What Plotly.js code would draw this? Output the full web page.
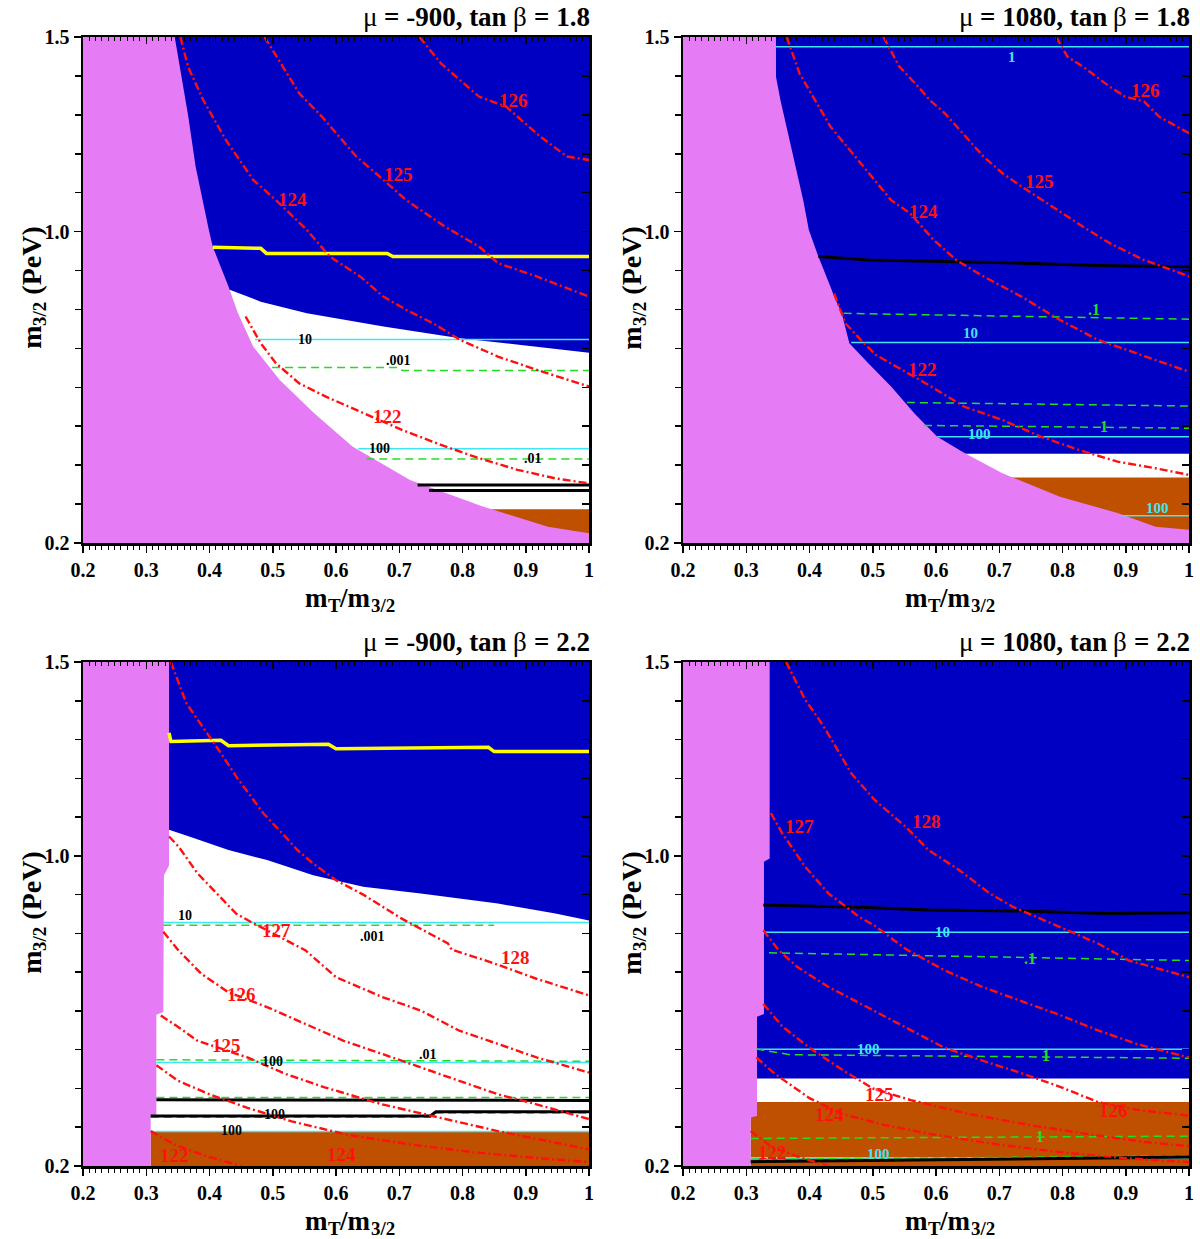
<!DOCTYPE html>
<html><head><meta charset="utf-8">
<script src="https://cdn.plot.ly/plotly-3.0.1.min.js"></script>
<style>body{margin:0;background:#fff}#chart{width:1200px;height:1239px}</style>
</head><body><div id="chart"></div>
<script>
// ---------------- data (data units: x = mT/m3/2, y = m3/2 in PeV) ----------------
const panelMu = ["-900", "1080", "-900", "1080"];
const panelTanBeta = ["1.8", "1.8", "2.2", "2.2"];
const yLabelVals = [0.2, 1.0, 1.5];
const yTickVals = [0.2,0.3,0.4,0.5,0.6,0.7,0.8,0.9,1.0,1.1,1.2,1.3,1.4,1.5];

// Panel 1 : mu=-900, tanb=1.8
const p1Violet = [[0.2,1.5],[0.345,1.5],[0.366,1.30],[0.378,1.167],[0.399,1.004],[0.405,0.962],[0.430,0.859],[0.445,0.790],[0.469,0.705],[0.511,0.619],[0.566,0.533],[0.626,0.448],[0.717,0.362],[0.832,0.294],[0.935,0.242],[1.0,0.225],[1.0,0.2],[0.2,0.2]];
const p1Blue = [[0.2,1.5],[1.0,1.5],[1.0,0.689],[0.917,0.704],[0.796,0.726],[0.675,0.756],[0.554,0.790],[0.481,0.820],[0.433,0.850],[0.2,0.85]];
const p1Brown = [[0.844,0.287],[1.0,0.287],[1.0,0.2],[0.844,0.2]];
const p1Yellow = [[[0.405,0.960],[0.481,0.957],[0.490,0.944],[0.681,0.944],[0.690,0.936],[1.0,0.936]]];
const p1Cyan = [[[0.472,0.723],[1.0,0.723]], [[0.635,0.442],[1.0,0.442]]];
const p1Green = [[[0.499,0.651],[0.699,0.651],[0.705,0.643],[1.0,0.643]], [[0.648,0.416],[1.0,0.416]]];
const p1Black = [[[0.729,0.349],[1.0,0.349]], [[0.747,0.335],[1.0,0.335]]];
const p1Mh = [
  [[0.354,1.50],[0.366,1.424],[0.390,1.338],[0.426,1.235],[0.469,1.133],[0.505,1.081],[0.554,1.004],[0.590,0.936],[0.638,0.885],[0.675,0.833],[0.711,0.799],[0.754,0.764],[0.796,0.722],[0.856,0.679],[0.917,0.645],[1.0,0.602]],
  [[0.487,1.50],[0.542,1.355],[0.578,1.295],[0.632,1.193],[0.663,1.150],[0.711,1.081],[0.772,1.013],[0.826,0.962],[0.856,0.919],[0.917,0.885],[1.0,0.833]],
  [[0.732,1.50],[0.766,1.432],[0.826,1.347],[0.869,1.321],[0.923,1.244],[0.965,1.193],[1.0,1.184]],
  [[0.457,0.782],[0.481,0.713],[0.505,0.662],[0.542,0.610],[0.584,0.576],[0.645,0.533],[0.705,0.490],[0.766,0.452],[0.826,0.418],[0.887,0.388],[0.947,0.366],[1.0,0.353]]
];
const p1Labels = [["126",0.881,1.336,"mh"],["125",0.699,1.148,"mh"],["124",0.532,1.083,"mh"],["122",0.681,0.525,"mh"],
  ["10",0.551,0.722,"k"],[".001",0.699,0.670,"k"],["100",0.669,0.442,"k"],[".01",0.911,0.418,"k"]];

// Panel 2 : mu=1080, tanb=1.8
const p2Violet = [[0.2,1.5],[0.347,1.5],[0.347,1.398],[0.354,1.338],[0.366,1.253],[0.378,1.167],[0.390,1.081],[0.399,1.004],[0.414,0.936],[0.433,0.859],[0.439,0.833],[0.451,0.790],[0.463,0.713],[0.493,0.662],[0.529,0.602],[0.566,0.533],[0.602,0.473],[0.645,0.431],[0.705,0.379],[0.796,0.319],[0.887,0.277],[0.947,0.242],[1.0,0.234],[1.0,0.2],[0.2,0.2]];
const p2Blue = [[0.2,1.5],[1.0,1.5],[1.0,0.429],[0.2,0.429]];
const p2Brown = [[0.70,0.368],[1.0,0.368],[1.0,0.2],[0.70,0.2]];
const p2Yellow = [];
const p2Cyan = [[[0.347,1.475],[1.0,1.475]], [[0.466,0.715],[1.0,0.715]], [[0.602,0.473],[1.0,0.473]], [[0.893,0.270],[1.0,0.270]]];
const p2Green = [[[0.454,0.790],[1.0,0.775]], [[0.554,0.561],[1.0,0.552]], [[0.581,0.502],[1.0,0.495]]];
const p2Black = [[[0.414,0.936],[0.493,0.927],[0.614,0.923],[0.735,0.919],[0.856,0.913],[1.0,0.910]]];
const p2Mh = [
  [[0.364,1.5],[0.384,1.407],[0.433,1.27],[0.463,1.21],[0.493,1.15],[0.529,1.081],[0.559,1.047],[0.596,0.979],[0.632,0.927],[0.675,0.885],[0.735,0.833],[0.796,0.773],[0.856,0.722],[0.917,0.687],[1.0,0.640]],
  [[0.517,1.5],[0.542,1.424],[0.572,1.372],[0.590,1.338],[0.614,1.304],[0.651,1.235],[0.675,1.193],[0.705,1.150],[0.735,1.116],[0.784,1.064],[0.832,1.013],[0.875,0.970],[0.929,0.927],[1.0,0.885]],
  [[0.790,1.5],[0.808,1.449],[0.832,1.424],[0.875,1.372],[0.899,1.347],[0.929,1.334],[0.953,1.295],[1.0,1.253]],
  [[0.439,0.841],[0.457,0.764],[0.481,0.722],[0.505,0.683],[0.542,0.649],[0.584,0.610],[0.645,0.550],[0.705,0.516],[0.766,0.473],[0.826,0.439],[0.887,0.409],[0.947,0.392],[1.0,0.375]]
];
const p2Labels = [["1",0.720,1.449,"c"],["126",0.932,1.362,"mh"],["125",0.763,1.128,"mh"],["124",0.581,1.051,"mh"],
  [".1",0.850,0.799,"g"],["10",0.654,0.740,"c"],["122",0.578,0.645,"mh"],["1",0.866,0.499,"g"],["100",0.669,0.480,"c"],["100",0.950,0.289,"c"]];

// Panel 3 : mu=-900, tanb=2.2
const p3Violet = [[0.2,1.5],[0.336,1.5],[0.336,0.975],[0.328,0.95],[0.327,0.597],[0.316,0.59],[0.316,0.333],[0.307,0.329],[0.307,0.2],[0.2,0.2]];
const p3Blue = [[0.2,1.5],[1.0,1.5],[1.0,0.833],[0.947,0.851],[0.856,0.877],[0.734,0.903],[0.643,0.920],[0.564,0.950],[0.491,0.989],[0.430,1.015],[0.369,1.049],[0.336,1.067],[0.2,1.067]];
const p3Brown = [[0.307,0.288],[1.0,0.288],[1.0,0.2],[0.307,0.2]];
const p3Yellow = [[[0.336,1.317],[0.339,1.295],[0.418,1.298],[0.430,1.284],[0.588,1.288],[0.600,1.276],[0.841,1.280],[0.850,1.269],[1.0,1.269]]];
const p3Cyan = [[[0.327,0.828],[1.0,0.828]], [[0.316,0.467],[1.0,0.467]], [[0.307,0.289],[1.0,0.289]]];
const p3Green = [[[0.327,0.821],[0.850,0.821]], [[0.316,0.474],[1.0,0.470]], [[0.316,0.377],[1.0,0.377]], [[0.307,0.326],[0.749,0.326],[0.758,0.337],[1.0,0.337]]];
const p3Black = [[[0.316,0.371],[1.0,0.369]], [[0.307,0.329],[0.749,0.329],[0.758,0.340],[1.0,0.340]]];
const p3Mh = [
  [[0.339,1.5],[0.363,1.395],[0.381,1.352],[0.418,1.265],[0.442,1.205],[0.485,1.110],[0.515,1.058],[0.539,1.015],[0.564,0.980],[0.600,0.937],[0.643,0.900],[0.675,0.868],[0.704,0.838],[0.777,0.774],[0.783,0.758],[0.844,0.726],[0.917,0.683],[1.0,0.640]],
  [[0.336,1.050],[0.351,1.024],[0.381,0.955],[0.412,0.903],[0.442,0.851],[0.465,0.830],[0.552,0.756],[0.600,0.687],[0.673,0.636],[0.734,0.601],[0.795,0.549],[0.856,0.515],[0.917,0.480],[1.0,0.441]],
  [[0.327,0.804],[0.351,0.756],[0.387,0.696],[0.430,0.648],[0.491,0.610],[0.552,0.567],[0.612,0.523],[0.673,0.489],[0.734,0.454],[0.795,0.420],[0.856,0.385],[0.917,0.359],[1.0,0.321]],
  [[0.323,0.588],[0.351,0.558],[0.381,0.523],[0.460,0.480],[0.521,0.437],[0.582,0.403],[0.673,0.359],[0.765,0.325],[0.856,0.290],[1.0,0.243]],
  [[0.316,0.460],[0.350,0.420],[0.400,0.385],[0.460,0.350],[0.530,0.315],[0.620,0.280],[0.720,0.255],[0.820,0.235],[0.920,0.220],[1.0,0.210]],
  [[0.307,0.290],[0.345,0.255],[0.390,0.228],[0.450,0.200]]
];
const p3Labels = [["10",0.362,0.847,"k"],["127",0.506,0.808,"mh"],[".001",0.658,0.793,"k"],["128",0.883,0.737,"mh"],
  ["126",0.451,0.642,"mh"],["125",0.427,0.510,"mh"],["100",0.500,0.469,"k"],[".01",0.746,0.487,"k"],
  ["100",0.503,0.333,"k"],["100",0.434,0.291,"k"],["122",0.345,0.226,"mh"],["124",0.609,0.230,"mh"]];

// Panel 4 : mu=1080, tanb=2.2
const p4Violet = [[0.2,1.5],[0.337,1.5],[0.337,0.993],[0.328,0.985],[0.328,0.592],[0.317,0.585],[0.317,0.329],[0.307,0.325],[0.307,0.2],[0.2,0.2]];
const p4Blue = [[0.2,1.5],[1.0,1.5],[1.0,0.426],[0.2,0.426]];
const p4Brown = [[0.307,0.365],[1.0,0.365],[1.0,0.2],[0.307,0.2]];
const p4Yellow = [];
const p4Cyan = [[[0.327,0.803],[1.0,0.803]], [[0.316,0.501],[1.0,0.501]], [[0.307,0.221],[1.0,0.221]]];
const p4Green = [[[0.336,0.750],[1.0,0.730]], [[0.316,0.502],[0.369,0.487],[1.0,0.478]], [[0.307,0.271],[1.0,0.277]], [[0.307,0.217],[1.0,0.226]]];
const p4Black = [[[0.327,0.873],[0.491,0.867],[0.588,0.860],[0.734,0.858],[0.868,0.851],[1.0,0.853]], [[0.307,0.211],[1.0,0.223]]];
const p4Mh = [
  [[0.363,1.5],[0.393,1.403],[0.415,1.352],[0.430,1.313],[0.466,1.213],[0.503,1.144],[0.527,1.110],[0.552,1.075],[0.588,1.015],[0.637,0.963],[0.685,0.903],[0.722,0.868],[0.765,0.838],[0.807,0.808],[0.856,0.774],[0.905,0.730],[0.941,0.713],[1.0,0.687]],
  [[0.339,1.110],[0.357,1.058],[0.393,0.972],[0.430,0.903],[0.479,0.842],[0.503,0.820],[0.552,0.760],[0.612,0.706],[0.673,0.662],[0.734,0.625],[0.795,0.590],[0.856,0.550],[0.917,0.515],[1.0,0.480]],
  [[0.327,0.808],[0.351,0.757],[0.381,0.713],[0.430,0.662],[0.491,0.610],[0.552,0.558],[0.612,0.506],[0.673,0.472],[0.734,0.440],[0.795,0.405],[0.856,0.365],[0.917,0.345],[1.0,0.330]],
  [[0.327,0.618],[0.357,0.560],[0.400,0.505],[0.450,0.450],[0.500,0.400],[0.560,0.370],[0.650,0.335],[0.750,0.305],[0.850,0.280],[0.930,0.262],[1.0,0.251]],
  [[0.316,0.480],[0.345,0.438],[0.400,0.375],[0.450,0.335],[0.520,0.305],[0.600,0.280],[0.700,0.255],[0.800,0.235],[0.900,0.220],[1.0,0.210]],
  [[0.307,0.290],[0.340,0.250],[0.380,0.225],[0.430,0.200]]
];
const p4Labels = [["127",0.384,1.075,"mh"],["128",0.585,1.088,"mh"],["10",0.611,0.804,"c"],[".1",0.749,0.735,"g"],
  ["100",0.494,0.501,"c"],["1",0.774,0.485,"g"],["125",0.511,0.385,"mh"],["124",0.432,0.334,"mh"],["126",0.880,0.342,"mh"],
  ["1",0.765,0.275,"g"],["100",0.509,0.232,"c"],["122",0.341,0.235,"mh"]];

// ---------------- styling ----------------
const FONT = "Liberation Serif, Times New Roman, serif";
const VIOLET = "#E67CF5", BLUE = "#0000C2", BROWN = "#BF5000";
const RED = "#FF1010", CYAN = "#40E6F6", GREEN = "#22DD22", YELLOW = "#FFFF00";
const panels = [
  {violet:p1Violet, blue:p1Blue, brown:p1Brown, yellow:p1Yellow, cyan:p1Cyan, green:p1Green, black:p1Black, mh:p1Mh, labels:p1Labels},
  {violet:p2Violet, blue:p2Blue, brown:p2Brown, yellow:p2Yellow, cyan:p2Cyan, green:p2Green, black:p2Black, mh:p2Mh, labels:p2Labels},
  {violet:p3Violet, blue:p3Blue, brown:p3Brown, yellow:p3Yellow, cyan:p3Cyan, green:p3Green, black:p3Black, mh:p3Mh, labels:p3Labels},
  {violet:p4Violet, blue:p4Blue, brown:p4Brown, yellow:p4Yellow, cyan:p4Cyan, green:p4Green, black:p4Black, mh:p4Mh, labels:p4Labels}
];
const W = 1200, H = 1239;
const boxes = [[83,589,37,543],[683,1189,37,543],[83,589,662,1166],[683,1189,662,1166]];

const traces = [];
const annotations = [];
const layout = {width:W, height:H, margin:{l:0,r:0,t:0,b:0}, paper_bgcolor:"#fff", plot_bgcolor:"#fff",
  showlegend:false, annotations:annotations, font:{family:FONT}};

function sfx(i){ return i === 1 ? "" : String(i); }
function xs(pts){ return pts.map(p => p[0]); }
function ys(pts){ return pts.map(p => p[1]); }

// rich text made of separate plain runs, measured with canvas
const ctx = document.createElement("canvas").getContext("2d");
function measure(t, size, weight){ ctx.font = weight + " " + size + "px 'Liberation Serif'"; return ctx.measureText(t).width; }
// pieces: [text, size, weight, shift]; start: px where the run begins (horizontal: left edge, vertical: bottom edge)
function runText(pieces, start, across, vertical, anchorEnd){
  const widths = pieces.map(p => measure(p[0], p[1], p[2]));
  const total = widths.reduce((a, b) => a + b, 0);
  const dir = vertical ? -1 : 1;
  let pos = anchorEnd ? start - dir * total : start;
  pieces.forEach((p, n) => {
    const txt = p[0];
    const lead = txt.length - txt.replace(/^\s+/, "").length;
    const trimmed = txt.trim();
    const leadW = measure(txt.slice(0, lead), p[1], p[2]);
    const c = pos + dir * (leadW + measure(trimmed, p[1], p[2]) / 2);
    const px = vertical ? across + p[3] : c;
    const py = vertical ? c : across + p[3];
    annotations.push({xref:"paper", yref:"paper", x:px / W, y:1 - py / H, xanchor:"center", yanchor:"middle",
      text:trimmed, showarrow:false, textangle:vertical ? -90 : 0, borderpad:0,
      font:{family:FONT, size:p[1], color:"#000", weight:p[2]}});
    pos += dir * widths[n];
  });
  return total;
}

panels.forEach((P, k) => {
  const i = k + 1, j = k + 5;
  const xa = "x" + sfx(i), ya = "y" + sfx(i);
  const b = boxes[k];
  const xd = [b[0]/W, b[1]/W], yd = [1 - b[3]/H, 1 - b[2]/H];
  const tf = {family:FONT, size:20, color:"#000", weight:"bold"};
  layout["xaxis" + sfx(i)] = {domain:xd, range:[0.2,1], anchor:ya, tickmode:"linear", tick0:0.2, dtick:0.1,
    ticks:"outside", ticklen:7, tickwidth:1.5, tickcolor:"#000", showline:true, linewidth:2.5, linecolor:"#000",
    minor:{tickmode:"linear", tick0:0.2, dtick:0.01, ticks:"outside", ticklen:4, tickwidth:1, tickcolor:"#000"},
    showgrid:false, zeroline:false, tickfont:tf, fixedrange:true};
  layout["yaxis" + sfx(i)] = {domain:yd, range:[0.2,1.5], anchor:xa, tickmode:"array", tickvals:yLabelVals, tickformat:".1f",
    ticks:"outside", ticklen:7, tickwidth:1.5, tickcolor:"#000", showline:true, linewidth:2.5, linecolor:"#000",
    minor:{tickmode:"array", tickvals:yTickVals, ticks:"outside", ticklen:6, tickwidth:1.5, tickcolor:"#000"},
    showgrid:false, zeroline:false, tickfont:tf, fixedrange:true};
  layout["xaxis" + j] = {overlaying:xa, side:"top", anchor:ya, range:[0.2,1], tickmode:"linear", tick0:0.2, dtick:0.1,
    ticks:"inside", ticklen:7, tickwidth:1.5, tickcolor:"#000", showticklabels:false, showline:true, linewidth:2.5, linecolor:"#000",
    minor:{tickmode:"linear", tick0:0.2, dtick:0.01, ticks:"inside", ticklen:4, tickwidth:1, tickcolor:"#000"},
    showgrid:false, zeroline:false, fixedrange:true};
  layout["yaxis" + j] = {overlaying:ya, side:"right", anchor:xa, range:[0.2,1.5], tickmode:"array", tickvals:yTickVals,
    ticks:"inside", ticklen:7, tickwidth:1.5, tickcolor:"#000", showticklabels:false, showline:true, linewidth:2.5, linecolor:"#000",
    showgrid:false, zeroline:false, fixedrange:true};

  const base = {type:"scatter", mode:"lines", xaxis:xa, yaxis:ya, hoverinfo:"skip", showlegend:false};
  const fillT = (pts, c) => Object.assign({}, base, {x:xs(pts), y:ys(pts), fill:"toself", fillcolor:c, line:{width:0, color:c}});
  const lineT = (pts, line) => Object.assign({}, base, {x:xs(pts), y:ys(pts), line:line});

  traces.push(fillT(P.blue, BLUE));
  traces.push(fillT(P.brown, BROWN));
  traces.push(fillT(P.violet, VIOLET));
  P.yellow.forEach(l => traces.push(lineT(l, {color:YELLOW, width:3.5})));
  P.cyan.forEach(l => traces.push(lineT(l, {color:CYAN, width:1.6})));
  P.green.forEach(l => traces.push(lineT(l, {color:GREEN, width:1.5, dash:"8px,5px"})));
  P.black.forEach(l => traces.push(lineT(l, {color:"#000", width:3})));
  P.mh.forEach(l => traces.push(lineT(l, {color:RED, width:2.4, dash:"8px,3px,2px,3px"})));
  // dummy traces so the mirrored frame axes are drawn
  traces.push({type:"scatter", mode:"markers", x:[0.5], y:[0.5], xaxis:"x" + j, yaxis:"y" + j, marker:{opacity:0}, hoverinfo:"skip", showlegend:false});

  P.labels.forEach(L => {
    const st = {mh:{size:19, color:RED}, k:{size:14, color:"#000"}, c:{size:15, color:CYAN}, g:{size:16, color:GREEN}}[L[3]];
    annotations.push({xref:xa, yref:ya, x:L[1], y:L[2], text:L[0], showarrow:false,
      font:{family:FONT, size:st.size, color:st.color, weight:"bold"}});
  });

  // panel title (right aligned to the frame)
  runText([["μ", 27, "normal", 0], [" = " + panelMu[k] + ", tan ", 27, "bold", 0], ["β", 27, "normal", 0], [" = " + panelTanBeta[k], 27, "bold", 0]],
    b[1] + 1, b[2] - 20, false, true);
  // x title  m_T / m_3/2
  const xPieces = [["m", 27, "bold", 0], ["T", 19, "bold", 7], ["/m", 27, "bold", 0], ["3/2", 19, "bold", 7]];
  const xw = xPieces.reduce((a, p) => a + measure(p[0], p[1], p[2]), 0);
  runText(xPieces, b[0] + 267 - xw / 2, b[3] + 55, false, false);
  // y title  m_3/2 (PeV), reading upwards
  const yPieces = [["m", 28, "bold", 0], ["3/2", 19, "bold", 7], [" (PeV)", 28, "bold", 0]];
  const yw = yPieces.reduce((a, p) => a + measure(p[0], p[1], p[2]), 0);
  runText(yPieces, b[2] + 251 + yw / 2, b[0] - 51, true, false);
});

Plotly.newPlot("chart", traces, layout, {staticPlot:true, displayModeBar:false});
</script>
</body></html>
